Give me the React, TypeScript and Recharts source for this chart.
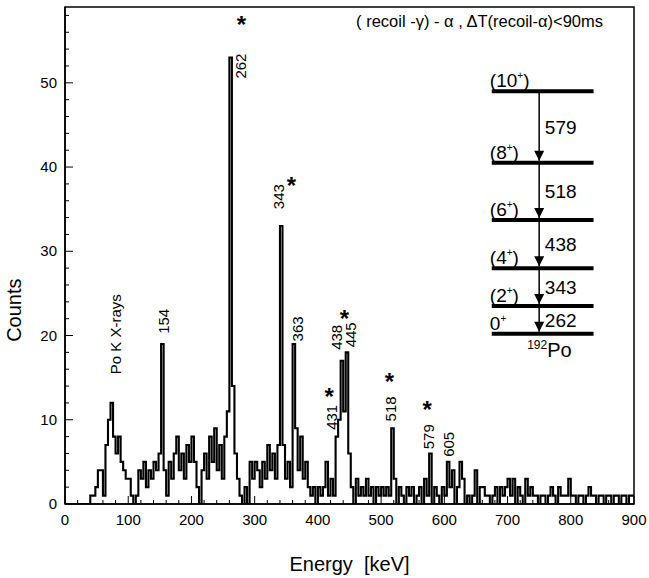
import {
  LineChart,
  Line,
  XAxis,
  YAxis,
  ReferenceArea,
  ReferenceLine,
  ReferenceDot,
} from 'recharts'

const FONT = '"Liberation Sans", Arial, Helvetica, sans-serif'

// gamma spectrum, 4 keV bins from 0 to 900 keV
const BIN_KEV = 4
const counts = [
  0, 0, 0, 0, 0, 0, 0, 0, 0, 0,
  1, 1, 2, 4, 4, 1, 7, 10, 12, 8,
  6, 8, 5, 4, 3, 3, 1, 0, 1, 4,
  3, 5, 2, 4, 3, 5, 4, 6, 19, 4,
  1, 5, 3, 6, 8, 4, 6, 3, 7, 5,
  8, 5, 2, 0, 4, 6, 3, 8, 5, 9,
  4, 7, 3, 8, 11, 53, 14, 6, 3, 1,
  0, 2, 0, 5, 3, 5, 4, 2, 5, 3,
  7, 4, 6, 3, 7, 33, 7, 3, 5, 2,
  19, 9, 4, 8, 3, 5, 2, 1, 2, 0,
  2, 1, 2, 5, 1, 3, 1, 8, 10, 17,
  11, 18, 6, 2, 0, 3, 1, 2, 1, 3,
  1, 2, 0, 2, 1, 2, 1, 2, 1, 9,
  3, 0, 2, 1, 0, 2, 1, 2, 0, 1,
  2, 0, 3, 1, 6, 0, 2, 1, 0, 2,
  1, 5, 2, 4, 0, 2, 5, 3, 0, 1,
  0, 1, 4, 0, 2, 2, 1, 1, 0, 1,
  2, 0, 2, 1, 2, 3, 1, 3, 0, 2,
  1, 0, 3, 1, 2, 1, 1, 0, 1, 1,
  0, 1, 2, 1, 0, 2, 1, 1, 1, 3,
  1, 1, 0, 1, 1, 0, 1, 2, 1, 1,
  0, 1, 1, 0, 1, 1, 0, 1, 1, 0,
  1, 1, 0, 1, 1,
]

const energyMajor = [0, 100, 200, 300, 400, 500, 600, 700, 800, 900]
const energyTicks = Array.from({ length: 46 }, (_, i) => i * 20)
const countTicks = Array.from({ length: 30 }, (_, i) => i * 2)

// peak labels (rotated) and the asterisks marking the 192Po cascade
const peakNames = ['Po K X-rays', '154', '262', '343', '363', '431', '438', '445', '518', '579', '605']
const peakLabelKeV = [81, 157, 279, 339, 369, 422, 430, 452, 516, 576, 608]
const peakLabelCount = [15.4, 20.2, 50.5, 35, 19.3, 8.8, 18.3, 18.6, 9.8, 6.5, 5.6]
const starKeV = [279, 358, 418, 442, 513, 573]
const starCount = [57.4, 38.3, 13.3, 22.6, 15.1, 11.8]

// level scheme inset
const levelNames = ['(10', '(8', '(6', '(4', '(2', '0']
const levelCount = [49, 40.5, 33.7, 28, 23.5, 20.2]
const gammaNames = ['579', '518', '438', '343', '262']

const data = counts.map((c, i) => ({ energy: i * BIN_KEV, counts: c }))
data.push({ energy: 900, counts: counts[counts.length - 1] })

function EnergyTick(props: any) {
  const { x, y, payload } = props
  const major = energyMajor.includes(payload.value)
  return (
    <g>
      <line x1={x} x2={x} y1={y} y2={y - (major ? 8 : 4)} stroke="#000" strokeWidth={1} />
      {major && (
        <text x={x} y={y + 21} textAnchor="middle" fontSize={15} fontFamily={FONT} fill="#000">
          {payload.value}
        </text>
      )}
    </g>
  )
}

function CountTick(props: any) {
  const { x, y, payload } = props
  const major = payload.value % 10 === 0
  return (
    <g>
      <line x1={x} x2={x + (major ? 8 : 4)} y1={y} y2={y} stroke="#000" strokeWidth={1} />
      {major && (
        <text x={x - 8} y={y + 5} textAnchor="end" fontSize={15} fontFamily={FONT} fill="#000">
          {payload.value}
        </text>
      )}
    </g>
  )
}

const arrowShape = (p: any) => {
  const top = Math.min(p.y1, p.y2)
  const tip = Math.max(p.y1, p.y2) - 2
  return (
    <g>
      <line x1={p.x1} x2={p.x1} y1={top} y2={tip} stroke="#000" strokeWidth={1.5} />
      <polygon points={`${p.x1 - 5},${tip - 10} ${p.x1 + 5},${tip - 10} ${p.x1},${tip}`} fill="#000" />
    </g>
  )
}

const rotatedText = (label: string) => (p: any) => {
  const bx = p.cx + 5
  return (
    <text
      x={bx}
      y={p.cy}
      transform={`rotate(-90 ${bx} ${p.cy})`}
      fontSize={15}
      fontFamily={FONT}
      fill="#000"
    >
      {label}
    </text>
  )
}

const starShape = (p: any) => (
  <text x={p.cx} y={p.cy + 13} textAnchor="middle" fontSize={24} fontWeight="bold" fontFamily={FONT} fill="#000">
    *
  </text>
)

const levelText = (name: string) => (p: any) => (
  <text x={p.cx} y={p.cy} fontSize={19} fontFamily={FONT} fill="#000">
    {name}
    <tspan dy={-8} fontSize={10}>+</tspan>
    <tspan dy={8}>{name.startsWith('(') ? ')' : ''}</tspan>
  </text>
)

const plainText = (label: string, size: number) => (p: any) => (
  <text x={p.cx} y={p.cy} fontSize={size} fontFamily={FONT} fill="#000">
    {label}
  </text>
)

export default function App() {
  return (
    <div style={{ position: 'absolute', left: 0, top: 0, width: 649, height: 578, background: '#fff' }}>
      <LineChart width={649} height={578} data={data} margin={{ top: 7, right: 15, left: 0, bottom: 0 }}>
        <XAxis
          dataKey="energy"
          type="number"
          domain={[0, 900]}
          ticks={energyTicks}
          interval={0}
          tickSize={0}
          tickMargin={0}
          height={74}
          tick={<EnergyTick />}
          axisLine={{ stroke: '#000', strokeWidth: 1.5 }}
          allowDataOverflow
          label={{
            value: 'Energy\u00a0\u00a0[keV]',
            position: 'insideBottom',
            offset: 7,
            style: { fontSize: 20, fontFamily: FONT, fill: '#000' },
          }}
        />
        <YAxis
          type="number"
          domain={[0, 59]}
          ticks={countTicks}
          interval={0}
          width={65}
          tickSize={0}
          tickMargin={0}
          tick={<CountTick />}
          axisLine={{ stroke: '#000', strokeWidth: 1.5 }}
          allowDataOverflow
          label={{
            content: (props: any) => {
              const vb = props.viewBox
              const cx = vb.x + 21
              const cy = vb.y + vb.height * 0.61
              return (
                <text
                  x={cx}
                  y={cy}
                  transform={`rotate(-90 ${cx} ${cy})`}
                  textAnchor="middle"
                  fontSize={20}
                  fontFamily={FONT}
                  fill="#000"
                >
                  Counts
                </text>
              )
            },
          }}
        />
        <ReferenceArea x1={0} x2={900} y1={0} y2={59} fill="none" stroke="#000" strokeWidth={1.5} ifOverflow="visible" />
        <Line
          type="stepAfter"
          dataKey="counts"
          stroke="#000"
          strokeWidth={2.1}
          dot={false}
          isAnimationActive={false}
        />
        {peakNames.map((name, i) => (
          <ReferenceDot
            key={'p' + name}
            x={peakLabelKeV[i]}
            y={peakLabelCount[i]}
            ifOverflow="visible"
            shape={rotatedText(name)}
          />
        ))}
        {starKeV.map((e, i) => (
          <ReferenceDot key={'s' + i} x={e} y={starCount[i]} ifOverflow="visible" shape={starShape} />
        ))}
        <ReferenceDot
          x={851}
          y={56.6}
          ifOverflow="visible"
          shape={(p: any) => (
            <text x={p.cx} y={p.cy} textAnchor="end" fontSize={16.5} fontFamily={FONT} fill="#000">
              ( recoil -γ) - α , ΔT(recoil-α)&lt;90ms
            </text>
          )}
        />
        {levelCount.map((c, i) => (
          <ReferenceLine
            key={'l' + i}
            segment={[
              { x: 675, y: c },
              { x: 836, y: c },
            ]}
            stroke="#000"
            strokeWidth={4}
            ifOverflow="visible"
          />
        ))}
        {gammaNames.map((g, i) => (
          <ReferenceLine
            key={'a' + g}
            segment={[
              { x: 750, y: levelCount[i] },
              { x: 750, y: levelCount[i + 1] },
            ]}
            ifOverflow="visible"
            shape={arrowShape}
          />
        ))}
        {gammaNames.map((g, i) => (
          <ReferenceDot
            key={'g' + g}
            x={759}
            y={(levelCount[i] + levelCount[i + 1]) / 2 - 0.8}
            ifOverflow="visible"
            shape={plainText(g, 19)}
          />
        ))}
        {levelNames.map((n, i) => (
          <ReferenceDot
            key={'n' + i}
            x={672}
            y={levelCount[i] + 0.5}
            ifOverflow="visible"
            shape={levelText(n)}
          />
        ))}
        <ReferenceDot
          x={731}
          y={17.4}
          ifOverflow="visible"
          shape={(p: any) => (
            <text x={p.cx} y={p.cy} fontSize={20} fontFamily={FONT} fill="#000">
              <tspan fontSize={12} dy={-8}>192</tspan>
              <tspan dy={8}>Po</tspan>
            </text>
          )}
        />
      </LineChart>
    </div>
  )
}
